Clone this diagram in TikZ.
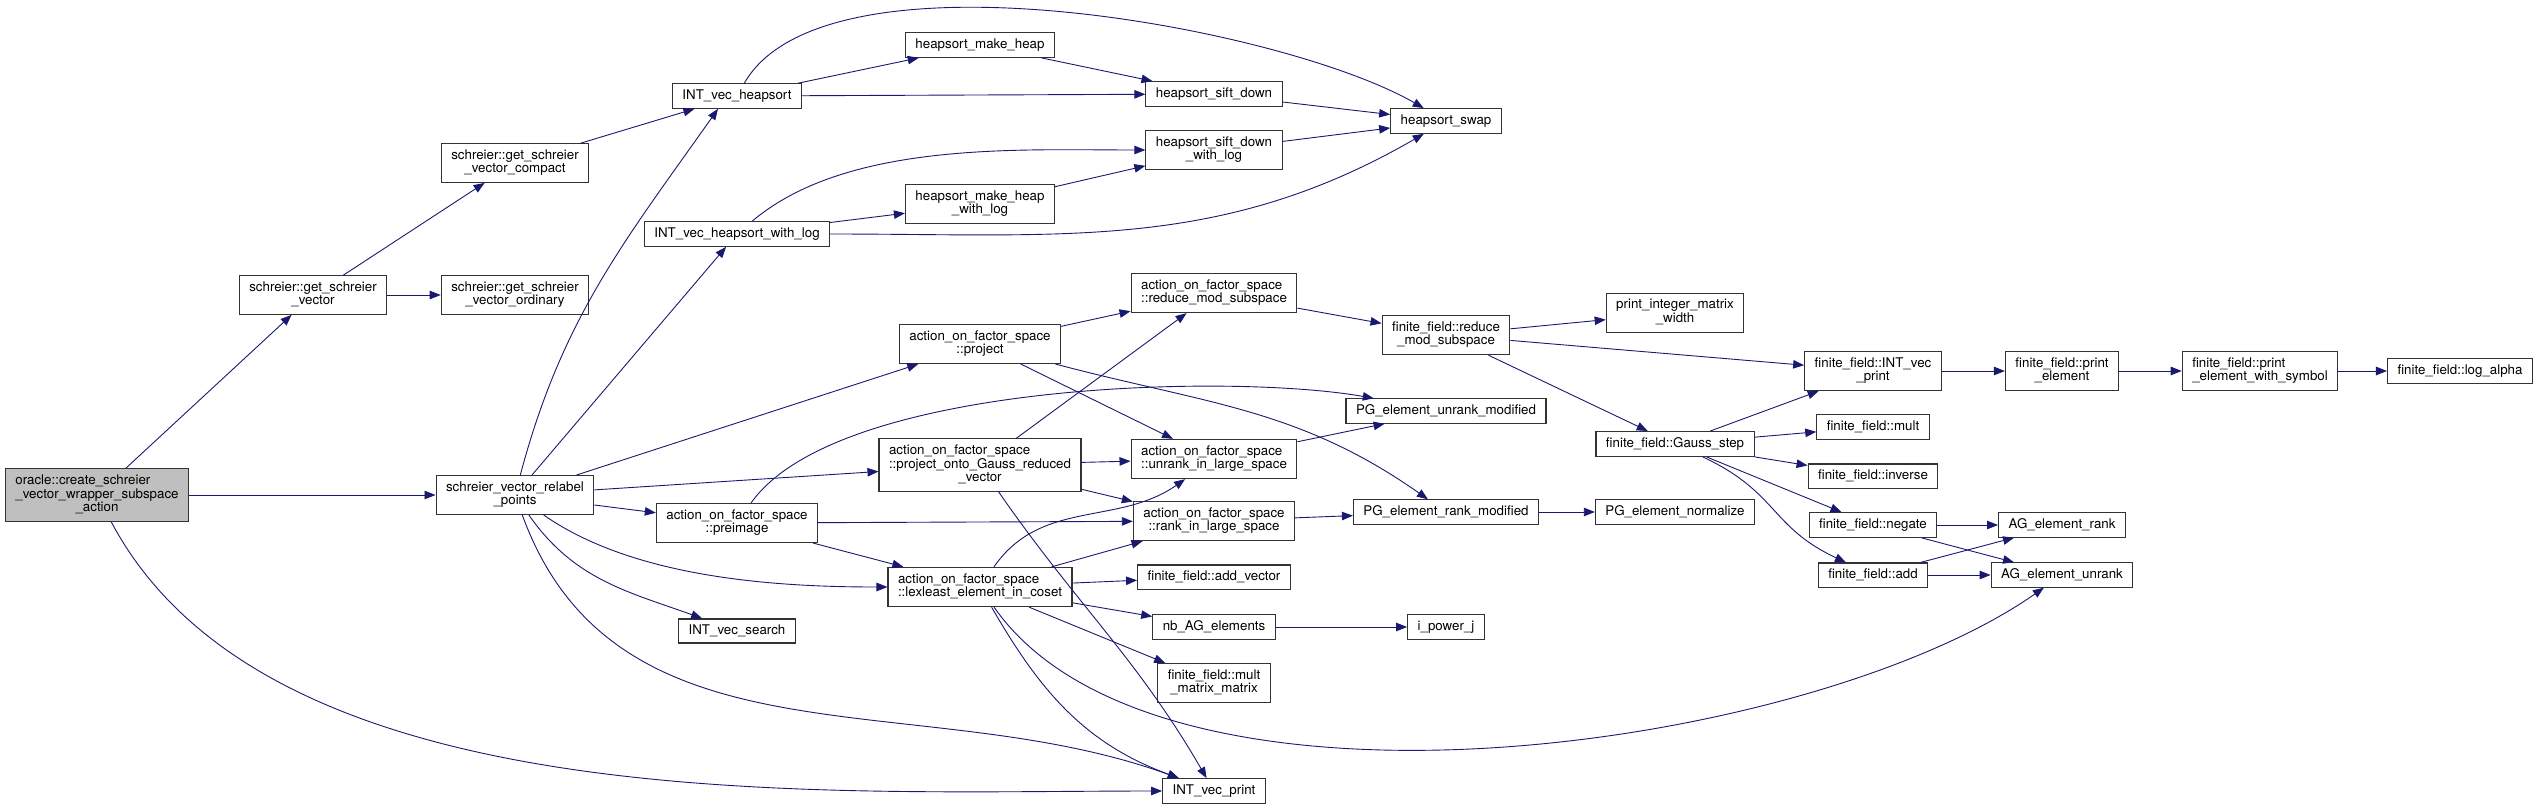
\documentclass[tikz,border=0pt]{standalone}
\usepackage{fontspec}
\setmainfont{TeX Gyre Heros}
\usepackage{tikz}
\usetikzlibrary{arrows.meta}
\definecolor{midnightblue}{HTML}{191970}
\definecolor{boxgray}{HTML}{BFBFBF}
\newcommand{\fnlabel}[2]{\begin{tabular}{@{}c@{}}\multicolumn{1}{@{}l@{}}{#1}\\#2\end{tabular}}

\begin{document}
\begin{tikzpicture}[x=1pt, y=1pt,
		every node/.style={rectangle, draw=black!80, line width=1.1pt, fill=white, minimum height=24pt, inner xsep=10pt, inner ysep=6pt, font=\fontsize{13.33}{13}\selectfont},
		callarrow/.style={-{Triangle[length=11pt, width=8.5pt]}, draw=midnightblue, line width=0.9pt}
		]
		\useasboundingbox (0,0) rectangle (2539,-809);
		% callers on the left
		\node (oracle) at (97,-495) [fill=boxgray] {\fnlabel{oracle::create\_schreier}{\_vector\_wrapper\_subspace\\\_action}};
		\node (gsv) at (313,-295) {\fnlabel{schreier::get\_schreier}{\_vector}};
		\node (gsvc) at (515,-163) {\fnlabel{schreier::get\_schreier}{\_vector\_compact}};
		\node (gsvo) at (515,-295) {\fnlabel{schreier::get\_schreier}{\_vector\_ordinary}};
		\node (relabel) at (515,-495) {\fnlabel{schreier\_vector\_relabel}{\_points}};
		\node (heapsort) at (737,-96) {INT\_vec\_heapsort};
		\node (heapsortlog) at (737,-234) {INT\_vec\_heapsort\_with\_log};
		\node (preimage) at (737,-523) {\fnlabel{action\_on\_factor\_space}{::preimage}};
		\node (search) at (737,-631) {INT\_vec\_search};
		\node (makeheap) at (980,-45) {heapsort\_make\_heap};
		\node (makeheaplog) at (980,-204) {\fnlabel{heapsort\_make\_heap}{\_with\_log}};
		\node (project) at (980,-344) {\fnlabel{action\_on\_factor\_space}{::project}};
		\node (gauss) at (980,-465) {\fnlabel{action\_on\_factor\_space}{::project\_onto\_Gauss\_reduced\\\_vector}};
		\node (lexleast) at (980,-587) {\fnlabel{action\_on\_factor\_space}{::lexleast\_element\_in\_coset}};
		\node (siftdown) at (1214,-94) {heapsort\_sift\_down};
		\node (siftdownlog) at (1214,-150) {\fnlabel{heapsort\_sift\_down}{\_with\_log}};
		\node (reduce) at (1214,-293) {\fnlabel{action\_on\_factor\_space}{::reduce\_mod\_subspace}};
		\node (unrank) at (1214,-459) {\fnlabel{action\_on\_factor\_space}{::unrank\_in\_large\_space}};
		\node (rank) at (1214,-521) {\fnlabel{action\_on\_factor\_space}{::rank\_in\_large\_space}};
		\node (addvec) at (1214,-577) {finite\_field::add\_vector};
		\node (nbag) at (1214,-627) {nb\_AG\_elements};
		\node (multmat) at (1214,-683) {\fnlabel{finite\_field::mult}{\_matrix\_matrix}};
		\node (vecprint) at (1214,-791) {INT\_vec\_print};
		% callees on the right
		\node (swap) at (1446,-121) {heapsort\_swap};
		\node (ffreduce) at (1446,-335) {\fnlabel{finite\_field::reduce}{\_mod\_subspace}};
		\node (pgunrank) at (1446,-411) {PG\_element\_unrank\_modified};
		\node (pgrank) at (1446,-512) {PG\_element\_rank\_modified};
		\node (ipow) at (1446,-627) {i\_power\_j};
		\node (printmat) at (1675,-313) {\fnlabel{print\_integer\_matrix}{\_width}};
		\node (gaussstep) at (1675,-444) {finite\_field::Gauss\_step};
		\node (pgnorm) at (1675,-512) {PG\_element\_normalize};
		\node (ffvecprint) at (1873,-371) {\fnlabel{finite\_field::INT\_vec}{\_print}};
		\node (ffmult) at (1873,-427) {finite\_field::mult};
		\node (ffinv) at (1873,-476) {finite\_field::inverse};
		\node (ffneg) at (1873,-525) {finite\_field::negate};
		\node (ffadd) at (1873,-575) {finite\_field::add};
		\node (printel) at (2062,-371) {\fnlabel{finite\_field::print}{\_element}};
		\node (agrank) at (2062,-525) {AG\_element\_rank};
		\node (agunrank) at (2062,-575) {AG\_element\_unrank};
		\node (printsym) at (2260,-371) {\fnlabel{finite\_field::print}{\_element\_with\_symbol}};
		\node (logalpha) at (2460,-371) {finite\_field::log\_alpha};
		% calls
		\draw[callarrow] (oracle) to (gsv);
		\draw[callarrow] (oracle) to (relabel);
		\draw[callarrow] (oracle) .. controls (270,-821) and (821,-791) .. (vecprint);
		\draw[callarrow] (gsv) to (gsvc);
		\draw[callarrow] (gsv) to (gsvo);
		\draw[callarrow] (gsvc) to (heapsort);
		\draw[callarrow] (heapsort) to (makeheap);
		\draw[callarrow] (heapsort) to (siftdown);
		\draw[callarrow] (heapsort) .. controls (825,58) and (1283,-27) .. (swap);
		\draw[callarrow] (makeheap) to (siftdown);
		\draw[callarrow] (siftdown) to (swap);
		\draw[callarrow] (siftdownlog) to (swap);
		\draw[callarrow] (heapsortlog) .. controls (847,-141) and (1019,-150) .. (siftdownlog);
		\draw[callarrow] (heapsortlog) to (makeheaplog);
		\draw[callarrow] (heapsortlog) .. controls (1066,-234) and (1221,-251) .. (swap);
		\draw[callarrow] (makeheaplog) to (siftdownlog);
		\draw[callarrow] (relabel) .. controls (562,-318) and (624,-242) .. ([xshift=-19pt]heapsort.south);
		\draw[callarrow] (relabel) to (heapsortlog);
		\draw[callarrow] (relabel) to (project);
		\draw[callarrow] (relabel) to (gauss);
		\draw[callarrow] (relabel) to (preimage);
		\draw[callarrow] (relabel) .. controls (634,-578) and (775,-587) .. (lexleast);
		\draw[callarrow] (relabel) .. controls (574,-580) and (629,-592) .. (search);
		\draw[callarrow] (relabel) .. controls (617,-775) and (920,-684) .. (vecprint);
		\draw[callarrow] (preimage) .. controls (836,-382) and (1230,-373) .. (pgunrank);
		\draw[callarrow] (preimage) to (rank);
		\draw[callarrow] (preimage) to (lexleast);
		\draw[callarrow] (project) to (reduce);
		\draw[callarrow] (project) to (unrank);
		\draw[callarrow] (project) .. controls (1206,-404) and (1298,-408) .. (pgrank);
		\draw[callarrow] (gauss) to (reduce);
		\draw[callarrow] (gauss) to (unrank);
		\draw[callarrow] (gauss) to (rank);
		\draw[callarrow] (gauss) .. controls (1077,-605) and (1137,-658) .. (vecprint);
		\draw[callarrow] (lexleast) .. controls (1041,-499) and (1118,-526) .. (unrank);
		\draw[callarrow] (lexleast) to (rank);
		\draw[callarrow] (lexleast) to (addvec);
		\draw[callarrow] (lexleast) to (nbag);
		\draw[callarrow] (lexleast) to (multmat);
		\draw[callarrow] (lexleast) .. controls (1041,-693) and (1086,-744) .. (vecprint);
		\draw[callarrow] (lexleast) .. controls (1158,-842) and (1809,-752) .. (agunrank);
		\draw[callarrow] (reduce) to (ffreduce);
		\draw[callarrow] (ffreduce) to (printmat);
		\draw[callarrow] (ffreduce) to (ffvecprint);
		\draw[callarrow] (ffreduce) to (gaussstep);
		\draw[callarrow] (unrank) to (pgunrank);
		\draw[callarrow] (rank) to (pgrank);
		\draw[callarrow] (pgrank) to (pgnorm);
		\draw[callarrow] (nbag) to (ipow);
		\draw[callarrow] (gaussstep) to (ffvecprint);
		\draw[callarrow] (gaussstep) to (ffmult);
		\draw[callarrow] (gaussstep) to (ffinv);
		\draw[callarrow] (gaussstep) to (ffneg);
		\draw[callarrow] (gaussstep) .. controls (1778,-492) and (1770,-527) .. (ffadd);
		\draw[callarrow] (ffvecprint) to (printel);
		\draw[callarrow] (printel) to (printsym);
		\draw[callarrow] (printsym) to (logalpha);
		\draw[callarrow] (ffneg) to (agrank);
		\draw[callarrow] (ffneg) to (agunrank);
		\draw[callarrow] (ffadd) to (agrank);
		\draw[callarrow] (ffadd) to (agunrank);
\end{tikzpicture}
\end{document}
